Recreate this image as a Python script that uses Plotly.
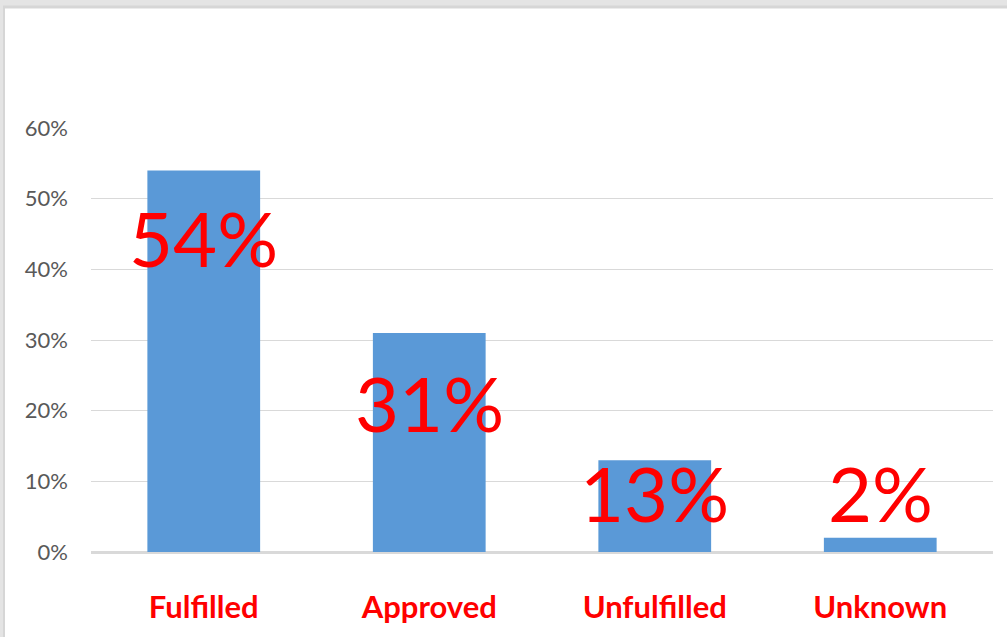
import plotly.graph_objects as go

categories = ["Fulfilled", "Approved", "Unfulfilled", "Unknown"]
values = [54, 31, 13, 2]
value_labels = ["54%", "31%", "13%", "2%"]
y_tick_values = [0, 10, 20, 30, 40, 50, 60]
y_tick_labels = ["0%", "10%", "20%", "30%", "40%", "50%", "60%"]

# pixel offsets of each big label relative to its bar top (styling)
label_shift = [-67, -70, -32, 45]

W, H = 1007, 637
ML, MR, MT, MB = 91, 14, 128, 83
PW, PH = W - ML - MR, H - MT - MB

def px_x(p):
    return (p - ML) / PW

def px_y(p):
    return (H - MB - p) / PH

FONT = "Liberation Sans Narrow, Lato, sans-serif"

fig = go.Figure()
fig.add_trace(go.Bar(
    x=categories, y=values,
    marker=dict(color="#5a99d7", line=dict(width=0)),
    hoverinfo="skip",
))

for c, v, t, s in zip(categories, values, value_labels, label_shift):
    fig.add_annotation(x=c, y=v, text=t, showarrow=False, yanchor="middle",
                       yshift=s, font=dict(family=FONT, size=76, color="#ff0000"))

shapes = [
    dict(type="rect", xref="paper", yref="paper", layer="below",
         x0=px_x(3), x1=px_x(W + 5), y0=px_y(5), y1=px_y(H + 5),
         fillcolor="#d6d6d6", line=dict(width=0)),
    dict(type="rect", xref="paper", yref="paper", layer="below",
         x0=px_x(5), x1=px_x(W + 5), y0=px_y(8), y1=px_y(H + 5),
         fillcolor="#ffffff", line=dict(width=0)),
]

fig.update_layout(
    width=W, height=H,
    margin=dict(l=ML, r=MR, t=MT, b=MB, pad=0),
    paper_bgcolor="#e4e4e4",
    plot_bgcolor="rgba(0,0,0,0)",
    bargap=0.5,
    showlegend=False,
    shapes=shapes,
    xaxis=dict(
        showgrid=False, showline=False, zeroline=False,
        tickfont=dict(family=FONT, size=31, color="#ff0000", weight="bold"),
        ticklabelstandoff=34,
    ),
    yaxis=dict(
        range=[0, 60], tickvals=y_tick_values, ticktext=y_tick_labels,
        showgrid=True, gridcolor="#d9d9d9", gridwidth=1,
        zeroline=True, zerolinecolor="#d9d9d9", zerolinewidth=3,
        showline=False,
        tickfont=dict(family=FONT, size=22, color="#595959"),
        ticklabelstandoff=22,
    ),
)

fig.write_html("out.html",
               config={"displayModeBar": False, "staticPlot": True},
               post_script="document.body.style.margin='0';document.body.style.overflow='hidden';")
